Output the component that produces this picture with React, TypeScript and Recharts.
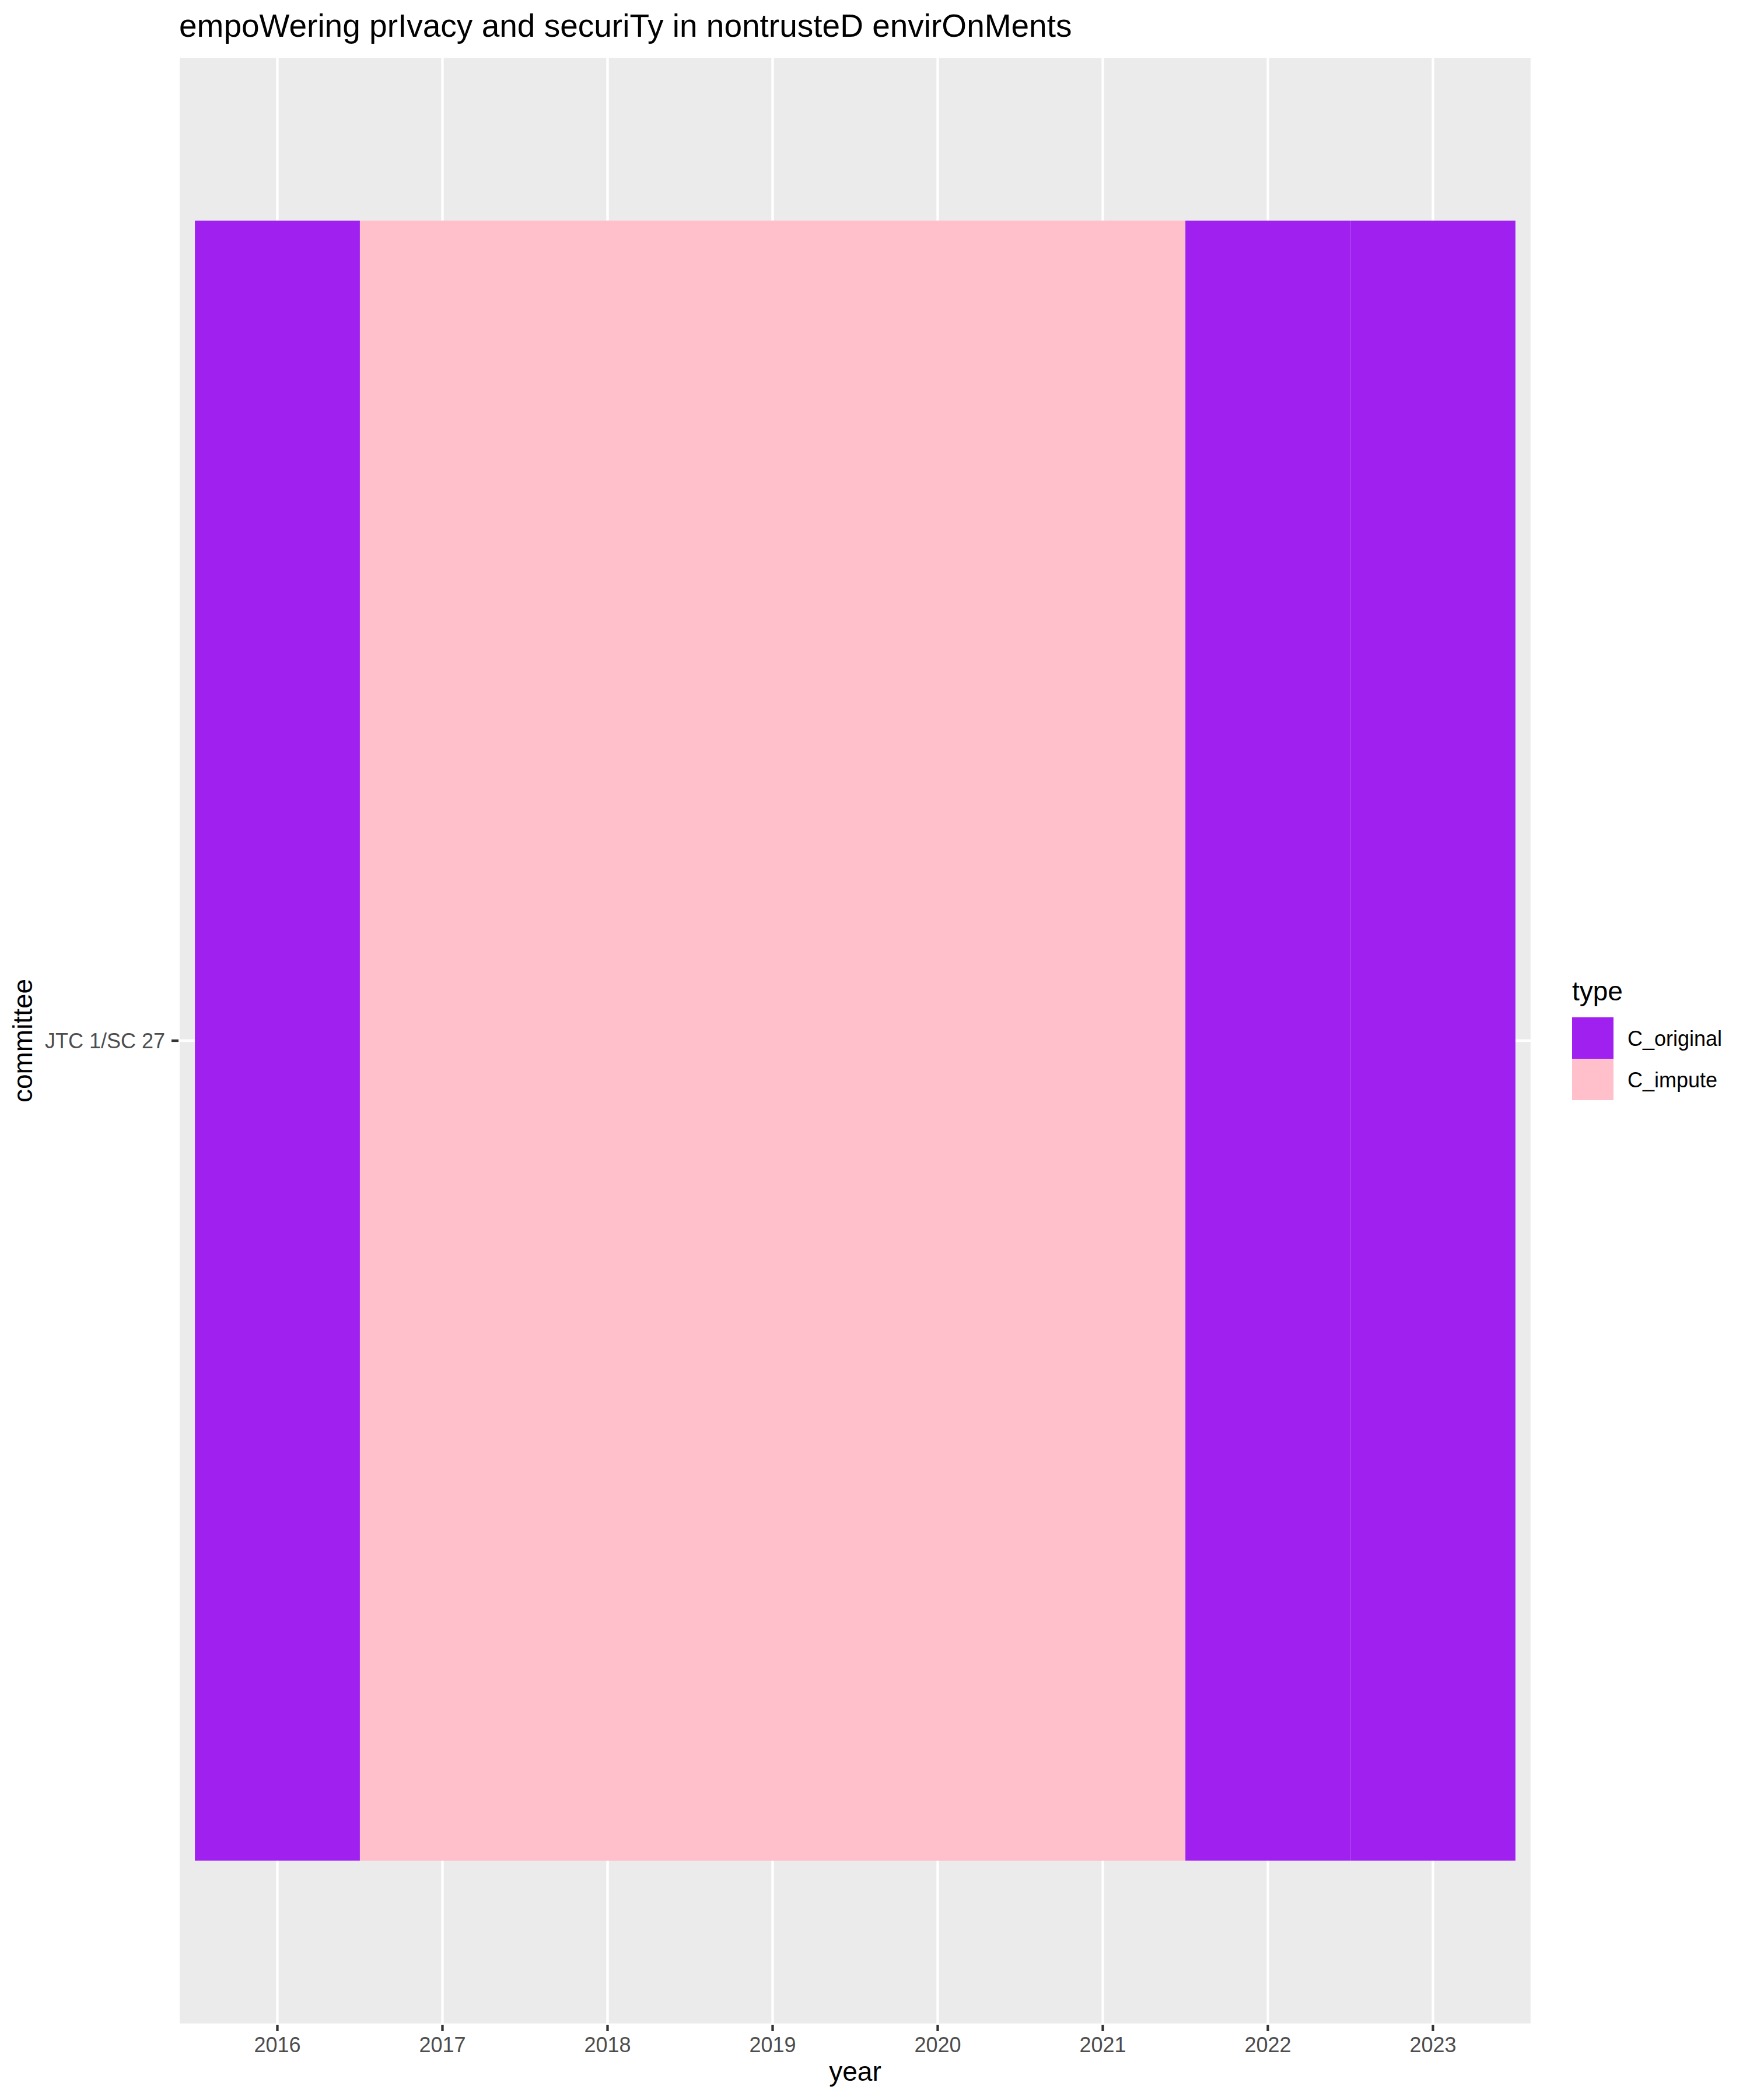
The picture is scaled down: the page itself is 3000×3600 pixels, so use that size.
import { Bar, BarChart, CartesianGrid, Cell, XAxis, YAxis } from 'recharts';

const title = 'empoWering prIvacy and securiTy in nontrusteD envirOnMents';
const committees = ['JTC 1/SC 27'];
const years = ['2016', '2017', '2018', '2019', '2020', '2021', '2022', '2023'];
const types = [
  'C_original',
  'C_impute',
  'C_impute',
  'C_impute',
  'C_impute',
  'C_impute',
  'C_original',
  'C_original',
];
const typeLevels = ['C_original', 'C_impute'];
const typeColors: Record<string, string> = {
  C_original: '#A020F0',
  C_impute: '#FFC0CB',
};
// faint anti-aliased seam that the tiles show on the dark fill only
const typeEdges: Record<string, string> = {
  C_original: 'rgba(255,255,255,0.18)',
  C_impute: 'none',
};

// committee position 1 on the y scale, tile height 1
const committeeIndex = 1;

const font = '"Liberation Sans", Arial, Helvetica, sans-serif';

const tiles = years.map((year, i) => ({
  year,
  type: types[i],
  span: [committeeIndex - 0.5, committeeIndex + 0.5],
}));

const Overlay = () => (
  <svg
    width={3000}
    height={3600}
    style={{ position: 'absolute', left: 0, top: 0, pointerEvents: 'none' }}
    fontFamily={font}
  >
    <text x={307} y={63} fontSize={55} fill='#000'>
      {title}
    </text>
    <text x={1466} y={3567} fontSize={46} fill='#000' textAnchor='middle'>
      year
    </text>
    <text
      x={0}
      y={0}
      fontSize={46}
      fill='#000'
      textAnchor='middle'
      transform='translate(55,1784) rotate(-90)'
    >
      committee
    </text>
    <text x={2695} y={1715} fontSize={46} fill='#000'>
      type
    </text>
    {typeLevels.map((t, i) => (
      <g key={t}>
        <rect x={2695} y={1744 + i * 71} width={71} height={71} fill={typeColors[t]} />
        <text x={2790} y={1793 + i * 71} fontSize={36} fill='#000'>
          {t}
        </text>
      </g>
    ))}
  </svg>
);

export default function App() {
  return (
    <div
      style={{
        position: 'absolute',
        left: 0,
        top: 0,
        width: 3000,
        height: 3600,
        background: '#fff',
        fontFamily: font,
      }}
    >
      <BarChart
        width={3000}
        height={3600}
        data={tiles}
        margin={{ top: 97, right: 374, bottom: 0, left: 0 }}
        barCategoryGap={0}
        barGap={0}
      >
        <CartesianGrid fill='#EBEBEB' stroke='#FFFFFF' strokeWidth={4.3} />
        <XAxis
          dataKey='year'
          type='category'
          height={129}
          padding={{ left: 28, right: 28 }}
          axisLine={false}
          tickSize={11}
          tickMargin={10}
          tickLine={{ stroke: '#333333', strokeWidth: 4.3 }}
          tick={{ fontSize: 36, fill: '#4D4D4D', fontFamily: font }}
          interval={0}
        />
        <YAxis
          type='number'
          domain={[committeeIndex - 0.6, committeeIndex + 0.6]}
          ticks={[committeeIndex]}
          tickFormatter={(v) => committees[Number(v) - 1] ?? ''}
          width={306}
          axisLine={false}
          tickSize={12}
          tickMargin={11}
          tickLine={{ stroke: '#333333', strokeWidth: 4.3 }}
          tick={{ fontSize: 36, fill: '#4D4D4D', fontFamily: font }}
          allowDataOverflow
        />
        <Bar dataKey='span' isAnimationActive={false}>
          {tiles.map((d) => (
            <Cell
              key={`tile-${d.year}`}
              fill={typeColors[d.type]}
              stroke={typeEdges[d.type]}
              strokeWidth={1}
            />
          ))}
        </Bar>
      </BarChart>
      <Overlay />
    </div>
  );
}
